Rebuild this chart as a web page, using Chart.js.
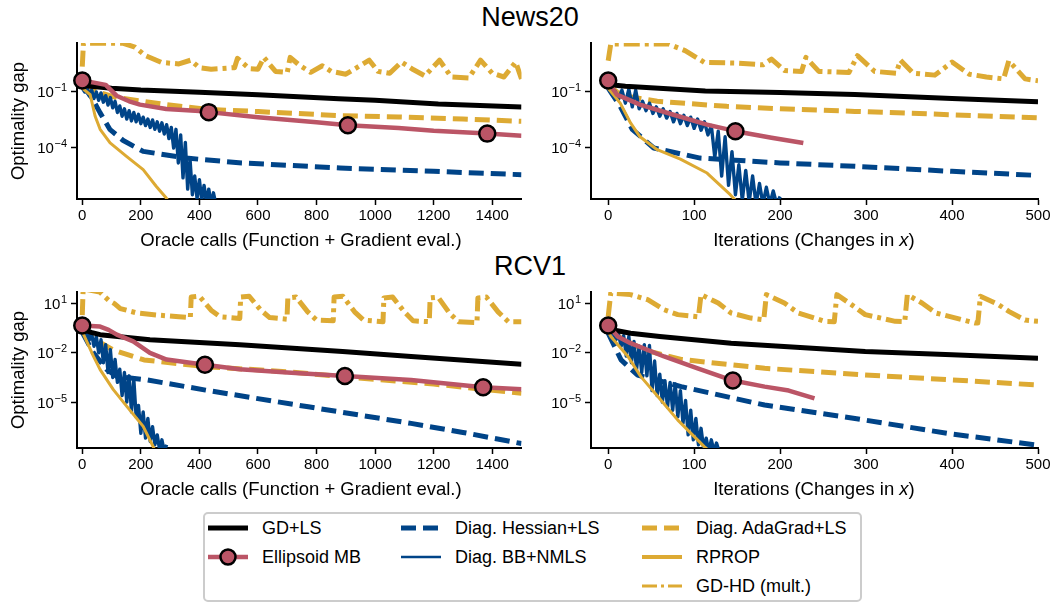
<!DOCTYPE html>
<html>
<head>
<meta charset="utf-8">
<script src="https://cdn.jsdelivr.net/npm/chart.js@4.4.0/dist/chart.umd.min.js"></script>
<style>
body { margin: 0; background: #fff; }
#fig { position: relative; width: 1055px; height: 604px; overflow: hidden; font-family: "Liberation Sans", Arial, sans-serif; color: #000; }
#fig canvas { position: absolute; }
.title { position: absolute; width: 300px; text-align: center; font-size: 27px; line-height: 27px; }
.xlabel { position: absolute; width: 400px; text-align: center; font-size: 18.5px; line-height: 18.5px; white-space: nowrap; }
#legend { position: absolute; left: 203px; top: 512px; width: 655px; height: 86px; border: 2px solid #cccccc; border-radius: 5px; }
.leg { position: absolute; font-size: 18px; line-height: 18px; white-space: nowrap; }
.sw { position: absolute; }
</style>
</head>
<body>
<div id="fig">
  <div class="title" style="left:380px; top:4px;">News20</div>
  <div class="title" style="left:380px; top:253px;">RCV1</div>
  <canvas id="tl" width="532" height="230" style="left:0px; top:30px;"></canvas>
  <canvas id="tr" width="535" height="230" style="left:520px; top:30px;"></canvas>
  <canvas id="bl" width="532" height="230" style="left:0px; top:280px;"></canvas>
  <canvas id="br" width="535" height="230" style="left:520px; top:280px;"></canvas>
  <div class="xlabel" style="left:101px; top:231px;">Oracle calls (Function + Gradient eval.)</div>
  <div class="xlabel" style="left:614px; top:231px;">Iterations (Changes in <i>x</i>)</div>
  <div class="xlabel" style="left:101px; top:480px;">Oracle calls (Function + Gradient eval.)</div>
  <div class="xlabel" style="left:614px; top:480px;">Iterations (Changes in <i>x</i>)</div>
  <div id="legend"></div>
</div>
<script>
// values are [x, log10(optimality gap)]

// ---- News20, oracle calls
const n20OracleGdls = [[0,-0.55],[20,-0.68],[100,-0.8],[200,-0.9],[400,-1.02],[600,-1.15],[876,-1.36],[1000,-1.45],[1216,-1.65],[1500,-1.8]];
const n20OracleEll = [[0,-0.39],[40,-0.5],[80,-0.62],[117,-1.2],[160,-1.5],[197,-1.68],[287,-1.91],[400,-2.02],[432,-2.08],[600,-2.35],[800,-2.62],[907,-2.78],[1080,-2.93],[1200,-3.08],[1383,-3.23],[1500,-3.34]];
const n20OracleEllMarks = [0, 432, 907, 1383];
const n20OracleHess = [[0,-0.7],[8,-0.8],[33,-1.32],[61,-2.12],[95,-3.02],[140,-3.6],[208,-4.18],[355,-4.54],[545,-4.8],[880,-5.07],[1200,-5.25],[1500,-5.43]];
const n20OracleBb = [[0,-0.8],[8,-1.0],[16,-0.75],[24,-1.2],[32,-0.9],[40,-1.35],[48,-1.0],[56,-1.45],[64,-1.05],[72,-1.55],[80,-1.2],[88,-1.7],[96,-1.3],[104,-1.85],[112,-1.5],[120,-2.1],[128,-1.75],[136,-2.3],[144,-1.9],[152,-2.45],[160,-2.0],[168,-2.55],[176,-2.1],[184,-2.6],[192,-2.2],[200,-2.7],[208,-2.35],[216,-2.8],[224,-2.45],[232,-2.9],[240,-2.5],[248,-3.0],[256,-2.6],[264,-3.1],[272,-2.65],[280,-3.25],[288,-2.75],[296,-3.5],[304,-2.9],[312,-4.0],[320,-3.0],[328,-4.8],[336,-3.3],[344,-5.6],[352,-3.7],[360,-6.2],[368,-4.6],[376,-6.5],[384,-5.5],[392,-6.7],[400,-5.7],[408,-6.8],[416,-6.0],[424,-6.9],[432,-6.2],[440,-7.0],[448,-6.4],[456,-7.0],[464,-6.8]];
const n20OracleAda = [[0,-0.6],[30,-0.8],[61,-1.04],[118,-1.3],[208,-1.5],[287,-1.68],[387,-1.86],[430,-1.93],[600,-2.05],[880,-2.27],[1080,-2.34],[1300,-2.45],[1500,-2.57]];
const n20OracleRprop = [[0,-0.8],[27,-1.15],[44,-2.3],[61,-3.0],[95,-3.73],[151,-4.45],[208,-5.16],[253,-6.06],[287,-6.68],[300,-7.0]];
const n20OracleGdhd = [[0,0.35],[4,1.6],[140,1.6],[180,1.4],[215,0.95],[270,0.58],[330,0.5],[370,0.7],[400,0.3],[440,0.22],[520,0.3],[530,0.8],[570,0.25],[600,0.22],[620,0.85],[660,0.1],[700,0.04],[710,0.85],[740,0.45],[780,0.05],[820,0.4],[850,0.1],[900,-0.05],[980,0.7],[1010,0.1],[1050,0.0],[1090,0.6],[1130,0.2],[1170,-0.14],[1220,0.7],[1260,-0.2],[1320,-0.25],[1360,0.7],[1400,0.0],[1440,-0.2],[1480,0.6],[1500,-0.3]];

// ---- News20, iterations
const n20IterGdls = [[0,-0.6],[20,-0.7],[113,-0.95],[200,-1.03],[287,-1.14],[400,-1.35],[500,-1.52]];
const n20IterEll = [[0,-0.39],[5,-0.8],[10,-1.14],[37,-1.68],[76,-2.22],[115,-2.75],[148,-3.1],[190,-3.45],[227,-3.73]];
const n20IterEllMarks = [0, 148];
const n20IterHess = [[0,-0.8],[14,-1.77],[28,-3.0],[53,-4.0],[107,-4.54],[200,-4.8],[287,-4.98],[400,-5.25],[500,-5.47]];
const n20IterBb = [[0,-0.8],[4,-1.1],[8,-0.95],[12,-1.4],[16,-0.9],[20,-1.6],[24,-0.85],[28,-1.8],[32,-0.9],[36,-1.9],[40,-1.5],[44,-2.0],[48,-1.6],[52,-2.15],[56,-1.8],[60,-2.3],[64,-1.9],[68,-2.4],[72,-2.05],[76,-2.6],[80,-2.15],[84,-2.7],[88,-2.25],[92,-2.8],[96,-2.35],[100,-2.95],[104,-2.45],[108,-3.05],[112,-2.6],[116,-3.3],[120,-2.8],[124,-4.5],[128,-3.1],[132,-5.5],[136,-3.4],[140,-6.0],[144,-4.2],[148,-6.5],[152,-4.9],[156,-6.8],[160,-5.2],[164,-6.9],[168,-5.5],[172,-7.0],[176,-5.9],[180,-7.0],[184,-6.1],[188,-7.0],[192,-6.3],[196,-7.0],[200,-6.6]];
const n20IterAda = [[0,-0.6],[10,-1.0],[22,-1.23],[57,-1.5],[138,-1.77],[200,-1.9],[287,-2.04],[400,-2.22],[500,-2.39]];
const n20IterRprop = [[0,-0.8],[14,-1.6],[26,-2.66],[37,-3.4],[57,-4.09],[84,-4.6],[115,-5.34],[142,-6.5],[150,-6.9]];
const n20IterGdhd = [[0,0.67],[3,1.57],[70,1.57],[90,1.2],[112,0.58],[147,0.55],[180,0.45],[190,0.76],[205,0.15],[225,0.1],[230,0.85],[245,0.1],[280,0.04],[290,0.94],[310,0.1],[335,0.0],[340,0.7],[355,0.0],[380,-0.1],[400,0.6],[420,-0.05],[440,-0.2],[460,-0.3],[466,0.67],[485,-0.3],[500,-0.4]];

// ---- RCV1, oracle calls
const rcvOracleGdls = [[0,-0.55],[30,-0.75],[61,-0.89],[231,-1.2],[538,-1.51],[889,-1.92],[1123,-2.22],[1500,-2.69]];
const rcvOracleEll = [[0,-0.33],[30,-0.36],[61,-0.4],[90,-0.6],[118,-0.89],[174,-1.3],[231,-2.0],[288,-2.41],[400,-2.68],[419,-2.73],[538,-3.0],[700,-3.2],[897,-3.41],[1123,-3.65],[1369,-4.1],[1500,-4.22]];
const rcvOracleEllMarks = [0, 419, 897, 1369];
const rcvOracleHess = [[0,-0.75],[38,-2.0],[84,-3.02],[118,-3.43],[222,-3.65],[421,-4.27],[772,-5.29],[1123,-6.3],[1300,-6.85],[1500,-7.53]];
const rcvOracleBb = [[0,-0.55],[8,-0.9],[16,-0.7],[24,-1.2],[32,-0.85],[40,-1.6],[48,-1.0],[56,-2.0],[64,-1.2],[72,-2.6],[80,-1.5],[88,-3.2],[96,-1.8],[104,-3.5],[112,-2.4],[120,-3.8],[128,-3.0],[136,-4.6],[144,-3.2],[152,-5.0],[160,-3.4],[168,-5.6],[176,-3.6],[184,-5.9],[192,-5.2],[200,-6.9],[208,-5.6],[216,-7.2],[224,-6.0],[232,-7.4],[240,-6.5],[248,-7.6],[256,-7.0],[264,-7.9],[272,-7.3],[280,-8.0],[288,-7.6]];
const rcvOracleAda = [[0,-0.5],[35,-1.1],[105,-1.82],[211,-2.43],[421,-2.84],[700,-3.15],[889,-3.45],[1200,-3.9],[1500,-4.47]];
const rcvOracleRprop = [[0,-0.7],[38,-2.2],[61,-3.02],[106,-4.24],[152,-5.26],[208,-6.48],[250,-8.0]];
const rcvOracleGdhd = [[0,0.3],[3,1.9],[60,1.7],[90,1.2],[110,1.0],[130,0.7],[187,0.43],[260,0.3],[330,0.2],[369,0.15],[372,1.4],[400,1.45],[440,0.6],[470,0.2],[538,0.1],[541,1.4],[570,1.45],[610,0.6],[640,0.15],[699,0.05],[702,1.35],[730,1.4],[770,0.5],[800,0.0],[857,-0.05],[860,1.4],[890,1.45],[930,0.5],[960,0.0],[1027,-0.1],[1030,1.35],[1060,1.4],[1100,0.5],[1130,-0.05],[1185,-0.1],[1188,1.35],[1215,1.4],[1255,0.4],[1285,-0.1],[1348,-0.15],[1351,1.35],[1380,1.4],[1420,0.5],[1455,-0.1],[1500,-0.1]];

// ---- RCV1, iterations
const rcvIterGdls = [[0,-0.55],[26,-0.8],[60,-1.0],[143,-1.41],[299,-1.92],[400,-2.12],[500,-2.33]];
const rcvIterEll = [[0,-0.33],[11,-1.0],[26,-1.41],[65,-2.22],[104,-2.94],[145,-3.69],[182,-4.06],[210,-4.3],[240,-4.78]];
const rcvIterEllMarks = [0, 145];
const rcvIterHess = [[0,-0.8],[15,-2.43],[34,-3.35],[85,-4.06],[182,-5.18],[299,-6.1],[396,-6.92],[500,-7.63]];
const rcvIterBb = [[0,-0.6],[3,-0.9],[6,-0.75],[9,-1.2],[12,-0.85],[15,-1.6],[18,-0.95],[21,-2.2],[24,-1.0],[27,-2.6],[30,-1.3],[33,-3.0],[36,-1.6],[39,-3.2],[42,-1.5],[45,-3.4],[48,-1.55],[51,-4.3],[54,-2.5],[57,-4.6],[60,-3.3],[63,-5.0],[66,-3.7],[69,-5.3],[72,-3.8],[75,-5.5],[78,-3.9],[81,-5.9],[84,-4.3],[87,-6.3],[90,-4.9],[93,-7.0],[96,-5.5],[99,-7.3],[102,-6.0],[105,-7.6],[108,-6.6],[111,-7.8],[114,-7.2],[117,-8.0],[120,-7.3],[123,-8.0],[126,-7.5],[129,-8.0]];
const rcvIterAda = [[0,-0.6],[15,-1.1],[42,-1.82],[85,-2.4],[182,-2.94],[299,-3.35],[400,-3.65],[500,-3.96]];
const rcvIterRprop = [[0,-0.7],[3,-1.0],[23,-2.22],[38,-3.45],[58,-4.67],[81,-6.1],[112,-7.73],[118,-8.0]];
const rcvIterGdhd = [[0,0.2],[3,1.65],[26,1.55],[46,1.24],[65,0.63],[81,0.33],[105,0.2],[108,1.55],[128,1.04],[143,0.43],[166,0.12],[181,0.02],[184,1.55],[205,1.04],[221,0.43],[252,-0.08],[263,-0.1],[266,1.55],[283,0.94],[299,0.33],[334,-0.08],[345,-0.1],[348,1.55],[365,1.04],[381,0.43],[427,-0.18],[430,-0.18],[433,1.45],[454,0.94],[466,0.53],[485,0.0],[500,-0.08]];

// ---- axis ticks
const oracleTicks = [0, 200, 400, 600, 800, 1000, 1200, 1400];
const iterTicks = [0, 100, 200, 300, 400, 500];
const news20YTicks = [1e-1, 1e-4];
const rcvYTicks = [1e1, 1e-2, 1e-5];

const FONT = '"Liberation Sans", Arial, sans-serif';
const BLUE = '#004488', GOLD = '#DDAA33', ROSE = '#BB5566';

// drawing order: first entry ends up on top
const styles = {
  ell:   { label: 'Ellipsoid MB',     color: ROSE,   width: 4.5, legendWidth: 4.5, dash: [],            legendDash: [] },
  gdls:  { label: 'GD+LS',            color: '#000', width: 5,   legendWidth: 5,   dash: [],            legendDash: [] },
  rprop: { label: 'RPROP',            color: GOLD,   width: 3,   legendWidth: 4,   dash: [],            legendDash: [] },
  bb:    { label: 'Diag. BB+NMLS',    color: BLUE,   width: 3.4, legendWidth: 2.5, dash: [],            legendDash: [] },
  hess:  { label: 'Diag. Hessian+LS', color: BLUE,   width: 5,   legendWidth: 5,   dash: [15, 7],       legendDash: [15, 7] },
  ada:   { label: 'Diag. AdaGrad+LS', color: GOLD,   width: 5,   legendWidth: 5,   dash: [15, 7],       legendDash: [15, 7] },
  gdhd:  { label: 'GD-HD (mult.)',    color: GOLD,   width: 5,   legendWidth: 3,   dash: [16, 5, 4, 5], legendDash: [15, 4, 3, 4] }
};

// y tick labels as 10 with a raised exponent
const powTicks = {
  id: 'powTicks',
  afterDraw(chart) {
    const sc = chart.scales.y;
    const ctx = chart.ctx;
    ctx.save();
    ctx.fillStyle = '#000';
    ctx.textAlign = 'left';
    ctx.textBaseline = 'alphabetic';
    sc.ticks.forEach(t => {
      const y = sc.getPixelForValue(t.value);
      const e = String(Math.round(Math.log10(t.value))).replace('-', '\u2212');
      ctx.font = '11px ' + FONT;
      const we = ctx.measureText(e).width;
      ctx.font = '15px ' + FONT;
      const wb = ctx.measureText('10').width;
      const right = sc.right - 6 - 4;
      ctx.fillText('10', right - we - wb - 0.5, y + 5.5);
      ctx.font = '11px ' + FONT;
      ctx.fillText(e, right - we, y - 0.5);
    });
    ctx.restore();
  }
};

function makePanel(id, p) {
  const datasets = Object.keys(styles).map(key => {
    const s = styles[key];
    const ds = {
      label: s.label,
      data: p.series[key].map(d => ({ x: d[0], y: Math.pow(10, d[1]) })),
      borderColor: s.color,
      borderWidth: s.width,
      borderDash: s.dash,
      borderCapStyle: 'butt',
      borderJoinStyle: 'round',
      tension: 0,
      pointRadius: 0,
      pointHoverRadius: 0
    };
    if (key === 'ell') {
      ds.pointRadius = ctx => (ctx.raw && p.marks.includes(ctx.raw.x)) ? 8 : 0;
      ds.pointBackgroundColor = ROSE;
      ds.pointBorderColor = '#000';
      ds.pointBorderWidth = 2.5;
      ds.clip = { left: 10, top: 0, right: 0, bottom: 0 };
    }
    return ds;
  });

  new Chart(document.getElementById(id), {
    type: 'line',
    data: { datasets },
    plugins: [powTicks],
    options: {
      responsive: false,
      animation: false,
      events: [],
      layout: { padding: { top: p.padTop, right: p.padRight, left: 0, bottom: 0 } },
      plugins: { legend: { display: false }, tooltip: { enabled: false } },
      scales: {
        x: {
          type: 'linear',
          min: p.xMin,
          max: p.xMax,
          afterBuildTicks: axis => { axis.ticks = p.xTicks.map(v => ({ value: v })); },
          afterFit: axis => { axis.height = p.xHeight; },
          ticks: { color: '#000', font: { family: FONT, size: 15 }, padding: 2, autoSkip: false, maxRotation: 0, callback: v => String(v) },
          grid: { display: true, drawOnChartArea: false, drawTicks: true, tickLength: 6, tickWidth: 1.5, tickColor: '#000', color: '#000' },
          border: { display: true, color: '#000', width: 2 }
        },
        y: {
          type: 'logarithmic',
          min: p.yMin,
          max: p.yMax,
          afterBuildTicks: axis => { axis.ticks = p.yTicks.map(v => ({ value: v })); },
          afterFit: axis => { axis.width = p.yWidth; },
          ticks: { color: 'rgba(0,0,0,0)', font: { family: FONT, size: 15 }, padding: 3, autoSkip: false, callback: v => String(v) },
          grid: { display: true, drawOnChartArea: false, drawTicks: true, tickLength: 6, tickWidth: 1.5, tickColor: '#000', color: '#000' },
          border: { display: true, color: '#000', width: 2 },
          title: { display: p.yTitle, text: 'Optimality gap', color: '#000', font: { family: FONT, size: 18.5 }, padding: { top: 8, bottom: 0 } }
        }
      }
    }
  });
}

makePanel('tl', {
  series: { gdls: n20OracleGdls, ell: n20OracleEll, hess: n20OracleHess, bb: n20OracleBb, ada: n20OracleAda, rprop: n20OracleRprop, gdhd: n20OracleGdhd },
  marks: n20OracleEllMarks, xMin: -18, xMax: 1500, xTicks: oracleTicks,
  yMin: Math.pow(10, -6.73), yMax: Math.pow(10, 1.62), yTicks: news20YTicks,
  yTitle: true, yWidth: 77, padTop: 13, padRight: 8, xHeight: 61
});
makePanel('tr', {
  series: { gdls: n20IterGdls, ell: n20IterEll, hess: n20IterHess, bb: n20IterBb, ada: n20IterAda, rprop: n20IterRprop, gdhd: n20IterGdhd },
  marks: n20IterEllMarks, xMin: -20, xMax: 500, xTicks: iterTicks,
  yMin: Math.pow(10, -6.73), yMax: Math.pow(10, 1.62), yTicks: news20YTicks,
  yTitle: false, yWidth: 71, padTop: 13, padRight: 17, xHeight: 61
});
makePanel('bl', {
  series: { gdls: rcvOracleGdls, ell: rcvOracleEll, hess: rcvOracleHess, bb: rcvOracleBb, ada: rcvOracleAda, rprop: rcvOracleRprop, gdhd: rcvOracleGdhd },
  marks: rcvOracleEllMarks, xMin: -18, xMax: 1500, xTicks: oracleTicks,
  yMin: Math.pow(10, -7.8), yMax: Math.pow(10, 1.71), yTicks: rcvYTicks,
  yTitle: true, yWidth: 77, padTop: 12, padRight: 8, xHeight: 62
});
makePanel('br', {
  series: { gdls: rcvIterGdls, ell: rcvIterEll, hess: rcvIterHess, bb: rcvIterBb, ada: rcvIterAda, rprop: rcvIterRprop, gdhd: rcvIterGdhd },
  marks: rcvIterEllMarks, xMin: -20, xMax: 500, xTicks: iterTicks,
  yMin: Math.pow(10, -7.8), yMax: Math.pow(10, 1.71), yTicks: rcvYTicks,
  yTitle: false, yWidth: 71, padTop: 12, padRight: 17, xHeight: 62
});

// ---- legend (three columns, as in the figure)
const legendCols = [
  ['gdls', 'ell'],
  ['hess', 'bb'],
  ['ada', 'rprop', 'gdhd']
];
const legendLineX = [208, 401, 642];
const legendTextX = [262, 455, 696];
const legendRowY = [528, 557, 586];
const fig = document.getElementById('fig');
legendCols.forEach((col, ci) => {
  col.forEach((key, ri) => {
    const s = styles[key];
    const y = legendRowY[ri];
    const svgNS = 'http://www.w3.org/2000/svg';
    const svg = document.createElementNS(svgNS, 'svg');
    svg.setAttribute('width', 44);
    svg.setAttribute('height', 20);
    svg.setAttribute('class', 'sw');
    svg.style.left = (legendLineX[ci] - 2) + 'px';
    svg.style.top = (y - 10) + 'px';
    const line = document.createElementNS(svgNS, 'line');
    line.setAttribute('x1', 2); line.setAttribute('x2', 42);
    line.setAttribute('y1', 10); line.setAttribute('y2', 10);
    line.setAttribute('stroke', s.color);
    line.setAttribute('stroke-width', s.legendWidth);
    if (s.legendDash.length) line.setAttribute('stroke-dasharray', s.legendDash.join(' '));
    svg.appendChild(line);
    if (key === 'ell') {
      const c = document.createElementNS(svgNS, 'circle');
      c.setAttribute('cx', 22); c.setAttribute('cy', 10); c.setAttribute('r', 7.5);
      c.setAttribute('fill', ROSE); c.setAttribute('stroke', '#000'); c.setAttribute('stroke-width', 2.5);
      svg.appendChild(c);
    }
    fig.appendChild(svg);
    const t = document.createElement('div');
    t.className = 'leg';
    t.textContent = s.label;
    t.style.left = legendTextX[ci] + 'px';
    t.style.top = (y - 9) + 'px';
    fig.appendChild(t);
  });
});
</script>
</body>
</html>
